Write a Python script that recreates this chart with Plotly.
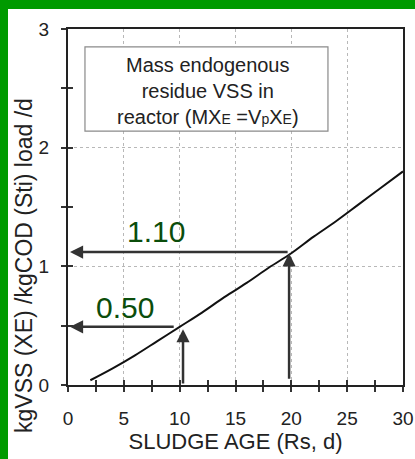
import plotly.graph_objects as go

# Data
sludge_age = [2, 4, 6, 8, 10, 12, 14, 16, 18, 20, 22, 24, 26, 28, 30]
xe_mass = [0.04, 0.14, 0.25, 0.37, 0.49, 0.61, 0.74, 0.86, 0.99, 1.11, 1.25, 1.38, 1.52, 1.66, 1.80]

# Read-off arrows: (tip x, tip y, tail x, tail y)
arrow_tip_x = [0.18, 19.8, 0.18, 10.3]
arrow_tip_y = [1.12, 1.11, 0.49, 0.47]
arrow_tail_x = [19.8, 19.8, 9.6, 10.3]
arrow_tail_y = [1.12, 0.04, 0.49, 0.0]

value_labels = ["1.10", "0.50"]
value_label_x = [7.9, 5.1]
value_label_y = [1.29, 0.65]

x_ticks = [0, 5, 10, 15, 20, 25, 30]
y_ticks = [0, 1, 2, 3]

FONT = "Liberation Sans, Arial, sans-serif"
AXC = "#222222"
TKC = "#333333"

L, R, T, B = 68, 12, 29, 74
W, H = 415, 459
pw, ph = W - L - R, H - T - B

fig = go.Figure()
fig.add_trace(go.Scatter(x=sludge_age, y=xe_mass, mode="lines",
                         line=dict(color="#111111", width=2, shape="spline"),
                         showlegend=False, hoverinfo="skip"))
# invisible trace to activate overlay axes (inner half of crossing ticks)
fig.add_trace(go.Scatter(x=[0], y=[0], xaxis="x2", yaxis="y2", mode="markers",
                         marker=dict(opacity=0), showlegend=False, hoverinfo="skip"))

annotations = []
for tx, ty, ax, ay in zip(arrow_tip_x, arrow_tip_y, arrow_tail_x, arrow_tail_y):
    annotations.append(dict(x=tx, y=ty, ax=ax, ay=ay, xref="x", yref="y",
                            axref="x", ayref="y", text="", showarrow=True,
                            arrowhead=2, arrowsize=1.05, arrowwidth=2.5,
                            arrowcolor="#333333", standoff=0, startstandoff=0))
for t, lx, ly in zip(value_labels, value_label_x, value_label_y):
    annotations.append(dict(x=lx, y=ly, xref="x", yref="y", text=t, showarrow=False,
                            font=dict(family=FONT, size=30, color="#0B4D0B")))
annotations.append(dict(
    x=12.53, y=2.48, xref="x", yref="y", showarrow=False,
    text=("Mass endogenous<br>residue VSS in<br>reactor (MX<span style='font-size:14px'>E</span>"
          " =V<span style='font-size:14px'>p</span>X<span style='font-size:14px'>E</span>)"),
    font=dict(family=FONT, size=20, color="#222222"), align="center"))
annotations.append(dict(
    x=(24 - L) / pw, y=(H - B - 266) / ph, xref="paper", yref="paper",
    xanchor="center", yanchor="middle", showarrow=False,
    text="kgVSS (XE) /kgCOD (Sti) load /d", textangle=-90,
    font=dict(family=FONT, size=23, color="#222222")))

shapes = [
    # green frame strips (left and top)
    dict(type="rect", xref="paper", yref="paper",
         x0=(0 - L) / pw, x1=(8 - L) / pw, y0=(H - B - H) / ph, y1=(H - B) / ph,
         fillcolor="#009A00", line=dict(width=0), layer="below"),
    dict(type="rect", xref="paper", yref="paper",
         x0=(0 - L) / pw, x1=(W - L) / pw, y0=(H - B - 9) / ph, y1=(H - B) / ph,
         fillcolor="#009A00", line=dict(width=0), layer="below"),
    # legend-like text box
    dict(type="rect", xref="x", yref="y", x0=1.52, x1=23.28, y0=2.14, y1=2.85,
         line=dict(color="#8a8a8a", width=1.2), fillcolor="white", layer="above"),
]

fig.update_layout(
    width=W, height=H,
    margin=dict(l=L, r=R, t=T, b=B, autoexpand=False),
    paper_bgcolor="white", plot_bgcolor="white",
    font=dict(family=FONT, color="#222222"),
    annotations=annotations, shapes=shapes,
    xaxis=dict(range=[0, 30], tickvals=x_ticks, ticktext=[str(v) for v in x_ticks],
               showgrid=True, gridcolor="#b8b8b8", griddash="dot", gridwidth=1,
               showline=True, linecolor=AXC, linewidth=2, mirror=True,
               ticks="outside", ticklen=5, tickwidth=1.5, tickcolor=TKC,
               minor=dict(dtick=2.5, tick0=0, ticks="outside", ticklen=5, tickwidth=1.5,
                          tickcolor=TKC, showgrid=False),
               tickfont=dict(family=FONT, size=19, color="#222222"),
               ticklabelstandoff=10, zeroline=False, automargin=False,
               title=dict(text="SLUDGE AGE (Rs, d)", font=dict(family=FONT, size=22, color="#222222"),
                          standoff=6)),
    yaxis=dict(range=[0, 3], tickvals=y_ticks, ticktext=[str(v) for v in y_ticks],
               showgrid=True, gridcolor="#b8b8b8", griddash="dot", gridwidth=1,
               showline=True, linecolor=AXC, linewidth=2, mirror=True,
               ticks="outside", ticklen=5, tickwidth=1.5, tickcolor=TKC,
               minor=dict(dtick=0.5, tick0=0, ticks="outside", ticklen=5, tickwidth=1.5,
                          tickcolor=TKC, showgrid=False),
               tickfont=dict(family=FONT, size=19, color="#222222"),
               ticklabelstandoff=8, zeroline=False, automargin=False),
    xaxis2=dict(overlaying="x", range=[0, 30], side="bottom", showgrid=False,
                showline=False, showticklabels=False, ticks="inside", ticklen=5,
                tickwidth=1.5, tickcolor=TKC, dtick=2.5, tick0=0, zeroline=False),
    yaxis2=dict(overlaying="y", range=[0, 3], side="left", showgrid=False,
                showline=False, showticklabels=False, ticks="inside", ticklen=5,
                tickwidth=1.5, tickcolor=TKC, dtick=0.5, tick0=0, zeroline=False),
)

fig.write_html("out.html", config={"displayModeBar": False},
               post_script="document.body.style.margin='0';document.body.style.padding='0';")
